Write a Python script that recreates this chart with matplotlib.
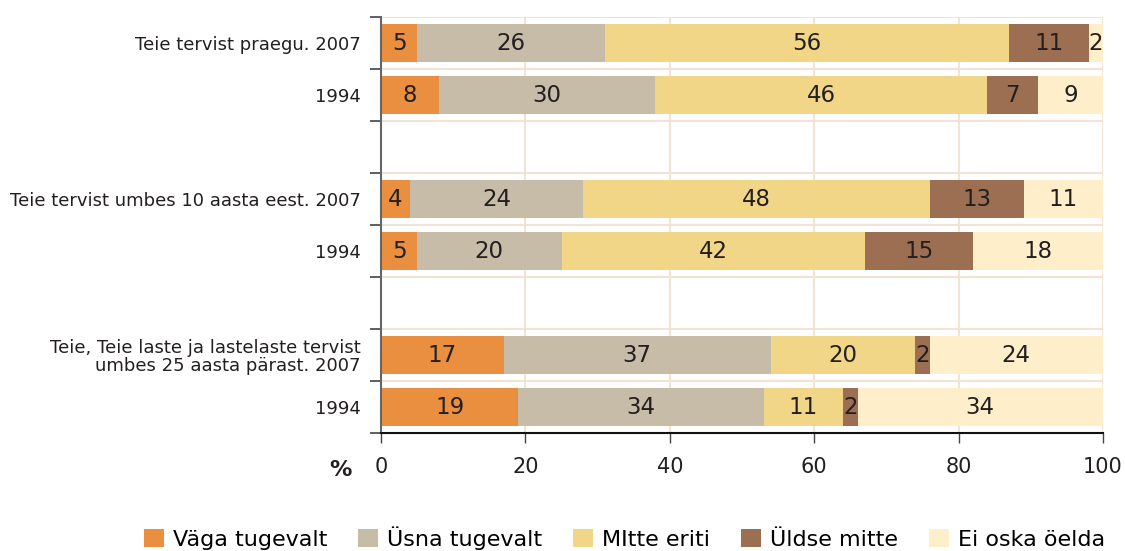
import matplotlib.pyplot as plt
from matplotlib.patches import Patch

row_labels = [
    'Teie tervist praegu. 2007',
    '1994',
    'Teie tervist umbes 10 aasta eest. 2007',
    '1994',
    'Teie, Teie laste ja lastelaste tervist\numbes 25 aasta pärast. 2007',
    '1994',
]
categories = ['Väga tugevalt', 'Üsna tugevalt', 'MItte eriti', 'Üldse mitte', 'Ei oska öelda']
vaga = [5, 8, 4, 5, 17, 19]
usna = [26, 30, 24, 20, 37, 34]
mitte_eriti = [56, 46, 48, 42, 20, 11]
uldse = [11, 7, 13, 15, 2, 2]
ei_oska = [2, 9, 11, 18, 24, 34]
x_ticks = [0, 20, 40, 60, 80, 100]

colors = ['#EA8F40', '#C6BCA7', '#F1D688', '#9C6F53', '#FEEFCA']
grid_color = '#F2E4D4'
text_color = '#231F20'

plt.rcParams['font.family'] = ['DejaVu Sans']

fig = plt.figure(figsize=(11.25, 5.51), dpi=100)
ax = fig.add_axes([381 / 1125, 1 - 433 / 551, 722 / 1125, 416 / 551])

# bar slots: two bars, then an empty slot between the groups
slots = [0.5, 1.5, 3.5, 4.5, 6.5, 7.5]
series = [vaga, usna, mitte_eriti, uldse, ei_oska]

left = [0] * len(slots)
for values, color in zip(series, colors):
    ax.barh(slots, values, left=left, height=0.72, color=color, zorder=2)
    for y, l, v in zip(slots, left, values):
        ax.text(l + v / 2, y, str(v), ha='center', va='center',
                fontsize=16.5, color=text_color, zorder=3)
    left = [l + v for l, v in zip(left, values)]

ax.set_xlim(0, 100)
ax.set_ylim(8, 0)

# grid
for x in x_ticks[1:]:
    ax.axvline(x, color=grid_color, lw=1.5, zorder=1)
for y in range(0, 8):
    ax.axhline(y, color=grid_color, lw=1.5, zorder=1)

ax.set_xticks(x_ticks)
ax.set_xticklabels([str(x) for x in x_ticks], fontsize=15, color=text_color)
ax.tick_params(axis='x', length=7, width=1, color='#444444', pad=10)

ax.set_yticks(range(0, 9))
ax.set_yticklabels([])
ax.set_yticks(slots, minor=True)
ax.set_yticklabels(row_labels, minor=True, fontsize=13, color=text_color,
                   linespacing=1.0)
ax.tick_params(axis='y', which='major', length=8, width=1.2, color='#444444')
ax.tick_params(axis='y', which='minor', length=0, pad=14.5)

for side in ['top', 'right']:
    ax.spines[side].set_visible(False)
ax.spines['left'].set_color('#666666')
ax.spines['left'].set_linewidth(1.5)
ax.spines['bottom'].set_color('#111111')
ax.spines['bottom'].set_linewidth(1.5)

fig.text(340 / 1125, 1 - 470 / 551, '%', fontsize=16, fontweight='bold',
         ha='center', va='center', color=text_color)

handles = [Patch(facecolor=c, edgecolor='none', label=n) for c, n in zip(colors, categories)]
fig.legend(handles=handles, loc='center', bbox_to_anchor=(0.555, 1 - 538 / 551),
           ncol=5, frameon=False, handlelength=0.9, handleheight=0.9,
           handletextpad=0.4, columnspacing=1.4,
           prop={'family': ['DejaVu Sans'], 'size': 16})

fig.savefig('out.png', dpi=100)
